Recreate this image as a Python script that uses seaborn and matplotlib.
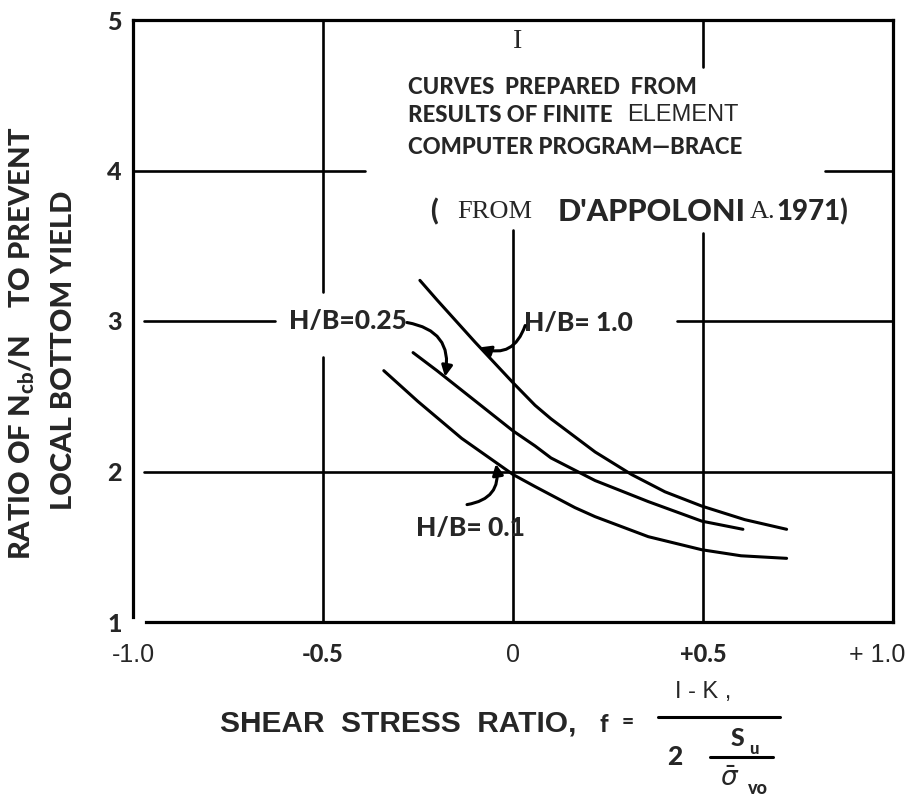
# Ratio of Ncb/N to prevent local bottom yield vs shear stress ratio
import pandas as pd
import matplotlib.pyplot as plt
import seaborn as sns
from matplotlib import font_manager as fm
from matplotlib.lines import Line2D
from matplotlib.transforms import ScaledTranslation

# curves (D'Appolonia 1971)
curve_names = ["H/B=0.1", "H/B=0.25", "H/B=1.0"]
f_hb01 = [-0.34, -0.25, -0.135, 0.0, 0.058, 0.163, 0.216, 0.356, 0.497, 0.6, 0.72]
r_hb01 = [2.67, 2.465, 2.22, 1.98, 1.90, 1.76, 1.70, 1.567, 1.48, 1.44, 1.423]
f_hb025 = [-0.263, -0.2, -0.1, 0.0, 0.058, 0.1, 0.216, 0.356, 0.497, 0.605]
r_hb025 = [2.79, 2.67, 2.47, 2.27, 2.17, 2.09, 1.94, 1.80, 1.67, 1.616]
f_hb10 = [-0.245, -0.2, -0.1, 0.0, 0.058, 0.1, 0.216, 0.312, 0.4, 0.497, 0.61, 0.72]
r_hb10 = [3.27, 3.14, 2.86, 2.59, 2.44, 2.35, 2.13, 1.98, 1.865, 1.77, 1.68, 1.616]

x_ticks = [-1.0, -0.5, 0.0, 0.5, 1.0]
x_ticklabels = ["-1.0", "-0.5", "0", "+0.5", "+ 1.0"]
y_ticks = [1, 2, 3, 4, 5]

df = pd.concat([
    pd.DataFrame({"f": f_hb01, "ratio": r_hb01, "curve": curve_names[0]}),
    pd.DataFrame({"f": f_hb025, "ratio": r_hb025, "curve": curve_names[1]}),
    pd.DataFrame({"f": f_hb10, "ratio": r_hb10, "curve": curve_names[2]}),
])

sns.set_style("white")
names = {f.name for f in fm.fontManager.ttflist}
HEAVY = "Lato" if "Lato" in names else "DejaVu Sans"
SANS = "Liberation Sans" if "Liberation Sans" in names else "DejaVu Sans"
SERIF = "Liberation Serif" if "Liberation Serif" in names else "DejaVu Serif"
plt.rcParams["font.family"] = [SANS, "DejaVu Sans"]
plt.rcParams["mathtext.fontset"] = "custom"
plt.rcParams["mathtext.rm"] = HEAVY + ":black"
plt.rcParams["mathtext.bf"] = HEAVY + ":black"

heavy = dict(family=HEAVY, weight="black")

W, H = 911, 798
fig = plt.figure(figsize=(W / 100, H / 100), dpi=100)
ax = fig.add_axes([133 / W, 1 - 622 / H, (893 - 133) / W, (622 - 20) / H])

sns.lineplot(data=df, x="f", y="ratio", hue="curve", palette=["black"] * 3,
             legend=False, estimator=None, lw=2.2, ax=ax)

ax.set_xlim(-1, 1)
ax.set_ylim(1, 5)
ax.set_xlabel("")
ax.set_ylabel("")

# frame
for side in ["left", "right", "top", "bottom"]:
    ax.spines[side].set_color("black")
    ax.spines[side].set_linewidth(2.3)
ax.spines["bottom"].set_bounds(-0.965, 1)
ax.spines["left"].set_bounds(1.03, 5)

# grid lines, broken where the lettering sits
grid_v = {-0.5: [(1, 2.76), (3.19, 5)], 0.0: [(1, 3.605)], 0.5: [(1, 3.585), (4.69, 5)]}
grid_h = {4: [(-1, -0.39), (0.82, 1)], 3: [(-0.972, -0.626), (0.432, 1)], 2: [(-0.972, 1)]}
for xv, segs in grid_v.items():
    for a, b in segs:
        ax.axvline(xv, (a - 1) / 4, (b - 1) / 4, color="black", lw=1.9)
for yv, segs in grid_h.items():
    for a, b in segs:
        ax.axhline(yv, (a + 1) / 2, (b + 1) / 2, color="black", lw=1.9)

# ticks
ax.set_xticks(x_ticks)
ax.set_xticklabels(x_ticklabels)
ax.set_yticks(y_ticks)
ax.set_yticklabels([str(v) for v in y_ticks])
ax.tick_params(axis="x", length=0, pad=15)
ax.tick_params(axis="y", length=0, pad=8)
for i, lab in enumerate(ax.get_xticklabels()):
    if i in (1, 3):
        lab.set_fontfamily(HEAVY)
        lab.set_fontweight("black")
        lab.set_fontsize(17)
    else:
        lab.set_fontfamily(SANS)
        lab.set_fontsize(18)
# last label sits just left of the frame corner, as in the original
last = ax.get_xticklabels()[-1]
last.set_horizontalalignment("right")
last.set_transform(last.get_transform() + ScaledTranslation(12 / 100, 0, fig.dpi_scale_trans))
for lab in ax.get_yticklabels():
    lab.set_fontfamily(HEAVY)
    lab.set_fontweight("black")
    lab.set_fontsize(18)

# curve labels and arrows
ax.text(-0.278, 3.0, "H/B=0.25", ha="right", va="center", fontsize=19, **heavy)
ax.text(0.028, 2.99, "H/B= 1.0", ha="left", va="center", fontsize=19, **heavy)
ax.text(-0.113, 1.625, "H/B= 0.1", ha="center", va="center", fontsize=19, **heavy)
arrow = dict(arrowstyle="-|>", color="black", lw=2.2, mutation_scale=16,
             shrinkA=0, shrinkB=0)
ax.annotate("", xy=(-0.179, 2.63), xytext=(-0.279, 2.99),
            arrowprops=dict(arrow, connectionstyle="arc3,rad=-0.5"))
ax.annotate("", xy=(-0.087, 2.825), xytext=(0.032, 2.97),
            arrowprops=dict(arrow, connectionstyle="arc3,rad=-0.5"))
ax.annotate("", xy=(-0.045, 2.05), xytext=(-0.121, 1.78),
            arrowprops=dict(arrow, connectionstyle="arc3,rad=0.5"))

# note block inside the chart
def ft(x, y, s, **kw):
    fig.text(x / W, 1 - y / H, s, **kw)

ft(518, 41, "I", ha="center", va="center", family=SERIF, fontsize=20)
ft(408, 88, "CURVES  PREPARED  FROM", ha="left", va="center", fontsize=16, **heavy)
ft(408, 115, "RESULTS OF FINITE", ha="left", va="center", fontsize=16, **heavy)
ft(627, 115, "ELEMENT", ha="left", va="center", family=SANS, fontsize=17)
ft(408, 147, "COMPUTER PROGRAM\u2014BRACE", ha="left", va="center", fontsize=16, **heavy)
ft(430, 212, "(", ha="left", va="center", fontsize=20, **heavy)
ft(457, 212, "FROM", ha="left", va="center", family=SERIF, fontsize=19)
ft(558, 212, "D'APPOLONI", ha="left", va="center", fontsize=22, **heavy)
ft(750, 212, "A.", ha="left", va="center", family=SERIF, fontsize=19)
ft(776, 212, "1971)", ha="left", va="center", fontsize=20, **heavy)

# y axis title
ft(22, 343, r"RATIO OF N$_{\mathrm{cb}}$/N    TO PREVENT", rotation=90,
   ha="center", va="center", fontsize=21, **heavy)
ft(64, 350, "LOCAL BOTTOM YIELD", rotation=90, ha="center", va="center",
   fontsize=21, **heavy)

# x axis title with the fraction
ft(220, 723, "SHEAR  STRESS  RATIO,", ha="left", va="center", family=SANS,
   weight="bold", fontsize=21.5)
ft(604, 724, "f", ha="center", va="center", fontsize=17, **heavy)
ft(628, 722, "=", ha="center", va="center", fontsize=15, **heavy)
ft(703, 692, "I - K ,", ha="center", va="center", family=SANS, fontsize=17)
ft(675, 757, "2", ha="center", va="center", fontsize=19, **heavy)
ft(737, 738, "S", ha="center", va="center", fontsize=18, **heavy)
ft(754, 749, "u", ha="center", va="center", fontsize=12, **heavy)
ft(730, 779, r"$\bar{\sigma}$", ha="center", va="center", fontsize=19,
   math_fontfamily="dejavusans")
ft(758, 789, "vo", ha="center", va="center", fontsize=13, **heavy)
fig.add_artist(Line2D([658 / W, 780 / W], [1 - 717 / H, 1 - 717 / H],
                      color="black", lw=2.2))
fig.add_artist(Line2D([710 / W, 773 / W], [1 - 757 / H, 1 - 757 / H],
                      color="black", lw=2.2))

fig.savefig("out.png", dpi=100)
